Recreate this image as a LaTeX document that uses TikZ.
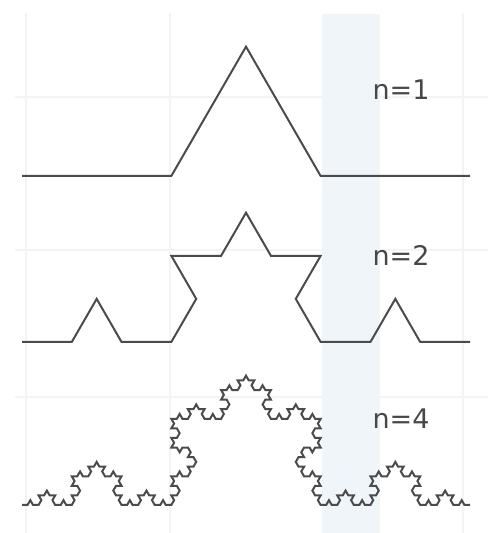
\documentclass[tikz,border=0pt]{standalone}
\usepackage{fontspec}
\setmainfont{DejaVu Sans}
\usetikzlibrary{lindenmayersystems}
\definecolor{bandblue}{RGB}{240,245,250}
\definecolor{gridgray}{RGB}{244,244,244}
\definecolor{kochgray}{RGB}{75,75,75}
\pgfdeclarelindenmayersystem{Koch}{\rule{F -> F+F--F+F}}
\tikzset{
    kochline/.style={line width=2pt,draw=kochgray,line join=miter},
    gridline/.style={line width=1.4pt,draw=gridgray},
    nlabel/.style={font=\fontsize{27}{32}\selectfont,text=black!72,inner sep=0pt}
}
\begin{document}
\begin{tikzpicture}[x=1pt,y=1pt]
  \useasboundingbox (0,0) rectangle (488,533);

  % background grid and shaded band
  \foreach \gx in {26,170,463}{\draw[gridline] (\gx,0) -- (\gx,520);}
  \foreach \gy in {436,283,136}{\draw[gridline] (15,\gy) -- (488,\gy);}
  \fill[bandblue] (322,0) rectangle (380,519);

  % Koch curves, order n
  \foreach \n/\base/\lab in {1/357/443,2/191/278,4/28/114}{
    \pgfmathsetmacro\s{448/3^\n}
    \begin{scope}[shift={(22,\base)}]
      \draw[kochline,lindenmayer system={Koch,axiom=F,order=\n,step=\s pt,angle=60}]
        lindenmayer system;
    \end{scope}
    \node[nlabel] (lab\n) at (401,\lab) {n=\n};
  }
\end{tikzpicture}
\end{document}
